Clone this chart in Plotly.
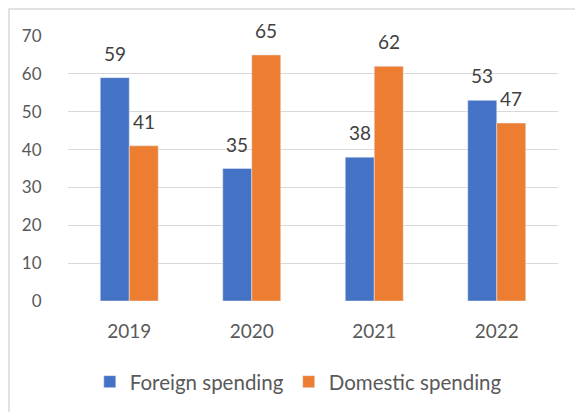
import plotly.graph_objects as go

years = ["2019", "2020", "2021", "2022"]
foreign = [59, 35, 38, 53]
domestic = [41, 65, 62, 47]
series_names = ["Foreign spending", "Domestic spending"]
y_ticks = [0, 10, 20, 30, 40, 50, 60, 70]

BLUE = "#4472C4"
ORANGE = "#ED7D31"
FONT = "Lato"

fig = go.Figure()
fig.add_trace(go.Bar(x=years, y=foreign, name=series_names[0], marker_color=BLUE))
fig.add_trace(go.Bar(x=years, y=domestic, name=series_names[1], marker_color=ORANGE))

half = 14.5
for vals, shift in ((foreign, -half), (domestic, half)):
    for i, v in enumerate(vals):
        fig.add_annotation(x=i, y=v, xref="x", yref="y", text=str(v), showarrow=False,
                           xshift=shift, yshift=11, yanchor="bottom",
                           font=dict(family=FONT, size=19, color="#404040"))

# outer chart border (cropped at right/bottom)
fig.add_shape(type="rect", xref="paper", yref="paper", x0=-0.1204, x1=1.3, y0=-1.0, y1=1.1015,
              line=dict(color="#D9D9D9", width=1.5), fillcolor="rgba(0,0,0,0)", layer="below")

fig.update_layout(
    width=575, height=412,
    margin=dict(l=68, r=17, t=36, b=110),
    plot_bgcolor="white", paper_bgcolor="white",
    barmode="group", bargap=0.527, bargroupgap=0,
    font=dict(family=FONT, size=18, color="#595959"),
    showlegend=True,
    legend=dict(orientation="h", x=0.47, xanchor="center", y=-0.30, yanchor="middle",
                font=dict(family=FONT, size=20.5, color="#595959"),
                traceorder="normal"),
    xaxis=dict(type="category", range=[-0.5, len(years) - 0.5], showgrid=False, showline=False,
               zeroline=False, ticks="outside", ticklen=13, tickcolor="rgba(0,0,0,0)",
               tickfont=dict(family=FONT, size=19, color="#595959")),
    yaxis=dict(range=[0, 70], tickvals=y_ticks, showgrid=True, gridcolor="#D9D9D9", gridwidth=1.3,
               zeroline=False, showline=False,
               ticks="outside", ticklen=22, tickcolor="rgba(0,0,0,0)",
               tickfont=dict(family=FONT, size=17, color="#595959")),
)

fig.write_html("out.html")
